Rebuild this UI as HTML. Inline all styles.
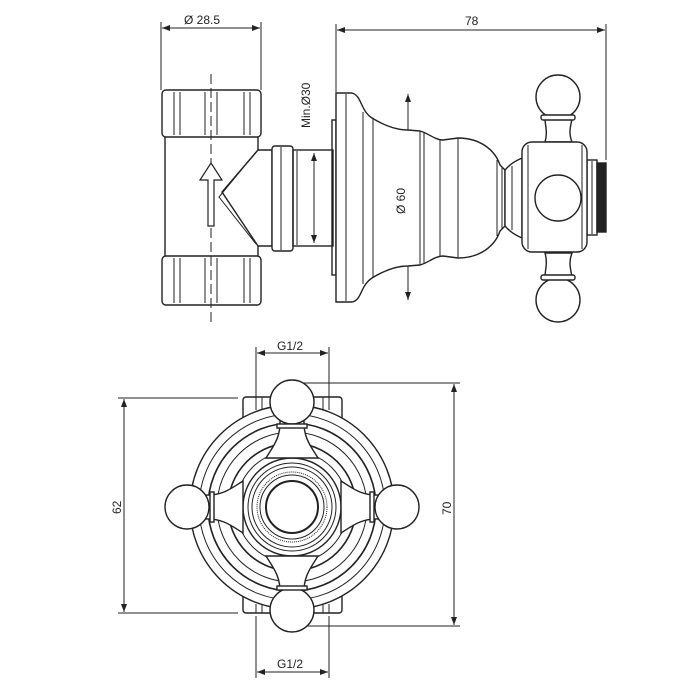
<!DOCTYPE html>
<html><head><meta charset="utf-8"><style>
html,body{margin:0;padding:0;background:#fff}
svg{display:block}
text{font-family:"Liberation Sans",Arial,sans-serif;font-size:12px;fill:#222}
</style></head><body>
<svg width="700" height="700" viewBox="0 0 700 700" xmlns="http://www.w3.org/2000/svg">
<defs>
<marker id="a" markerWidth="8" markerHeight="6" refX="8" refY="3" orient="auto-start-reverse" markerUnits="userSpaceOnUse"><path d="M0,0 L8,3 L0,6 z" fill="#222"/></marker>
</defs>
<g stroke="#222" fill="none" stroke-width="1">
<line x1="161" y1="22" x2="161" y2="90"/><line x1="261" y1="22" x2="261" y2="90"/>
<line x1="162" y1="28" x2="260" y2="28" marker-start="url(#a)" marker-end="url(#a)"/>
<line x1="336" y1="24" x2="336" y2="92"/><line x1="606" y1="24" x2="606" y2="160"/>
<line x1="337" y1="30" x2="605" y2="30" marker-start="url(#a)" marker-end="url(#a)"/>
<line x1="314" y1="153" x2="314" y2="243" marker-start="url(#a)" marker-end="url(#a)"/>
<line x1="408" y1="94" x2="408" y2="300" marker-start="url(#a)" marker-end="url(#a)"/>
<g stroke-width="1.4">
<rect x="162" y="90" width="99" height="47" rx="4" fill="#fff"/>
<rect x="162" y="256" width="99" height="49" rx="4" fill="#fff"/>
<path d="M165 137 V256 M258 137 V150 M258 246 V256"/>
<path d="M258 150 L222 192 L258 246"/>
<path d="M256 152 L219 197 L256 244" stroke-width="1"/>
<path d="M258 150 H272 V246 H258"/>
<rect x="272" y="146" width="21" height="105" rx="3" fill="#fff"/>
<rect x="293" y="150" width="40" height="96"/>
</g>
<path d="M174 92 V135 M180 92 V135 M244 92 V135 M250 92 V135 M174 258 V303 M180 258 V303 M244 258 V303 M250 258 V303"/>
<path d="M205 92 V135 M217 92 V135 M205 258 V303 M217 258 V303"/>
<path d="M281 147 V250 M297 151 V245"/>
<line x1="211" y1="74" x2="211" y2="323" stroke-dasharray="10,4"/>
<path d="M208 226 V180 H200 L211 163 L222 180 H214 V226 Z" fill="#fff" stroke-width="1.2"/>
<g stroke-width="1.4">
<rect x="332" y="120" width="4" height="155"/>
<path d="M336 93 H352 C362 96 360 110 372 118 C385 126 398 130 408 130 L420 131 C428 133 435 140 443 140 L458 138 C480 138 495 150 500 165 L505 170 V226 L500 231 C495 246 480 258 458 258 L443 256 C435 256 428 263 420 265 L408 266 C398 266 385 270 372 278 C360 286 362 300 352 302 H336 Z" fill="#fff"/>
</g>
<path d="M346 94 V301 M363 112 V284 M373 118 V278 M420 131 V265 M424 132 V264 M440 139 V257 M458 138 V258 M497 160 V236 M502 167 V229"/>
<g stroke-width="1.4">
<path d="M505 170 C512 162 518 160 522 158 V238 C518 236 512 234 505 226 Z" fill="#fff"/>
<rect x="587" y="160" width="10" height="75" fill="#fff"/>
<rect x="597" y="163" width="9" height="69" fill="#222"/>
<path d="M545 142 C548 132 545 125 545 119 H572 C571 125 568 132 572 142 Z" fill="#fff"/>
<path d="M545 253 C548 263 545 270 545 277 H572 C571 270 568 263 572 253 Z" fill="#fff"/>
<rect x="522" y="142" width="65" height="110" rx="10" fill="#fff"/>
<circle cx="558" cy="97" r="22" fill="#fff"/>
<circle cx="558" cy="300" r="22" fill="#fff"/>
<rect x="541" y="115" width="34" height="5" rx="2" fill="#fff"/>
<rect x="541" y="275" width="34" height="5" rx="2" fill="#fff"/>
<circle cx="558" cy="198" r="23" fill="#fff"/>
</g>
<path d="M512 166 V230 M528 145 V249 M582 145 V249 M592 161 V234"/>
<line x1="256" y1="347" x2="256" y2="398"/><line x1="329" y1="347" x2="329" y2="398"/>
<line x1="257" y1="353" x2="328" y2="353" marker-start="url(#a)" marker-end="url(#a)"/>
<line x1="256" y1="616" x2="256" y2="678"/><line x1="329" y1="616" x2="329" y2="678"/>
<line x1="257" y1="672" x2="328" y2="672" marker-start="url(#a)" marker-end="url(#a)"/>
<line x1="118" y1="398" x2="238" y2="398"/><line x1="118" y1="613" x2="238" y2="613"/>
<line x1="124" y1="399" x2="124" y2="612" marker-start="url(#a)" marker-end="url(#a)"/>
<line x1="292" y1="383" x2="460" y2="383"/><line x1="292" y1="626" x2="460" y2="626"/>
<line x1="454" y1="384" x2="454" y2="625" marker-start="url(#a)" marker-end="url(#a)"/>
<g stroke-width="1.4">
<rect x="243" y="397" width="99" height="216" rx="3" fill="#fff"/>
<circle cx="292" cy="507" r="102" fill="#fff"/>
</g>
<path d="M256 397 V410 M262 397 V410 M323 397 V410 M329 397 V410 M256 604 V613 M262 604 V613 M323 604 V613 M329 604 V613"/>
<circle cx="292" cy="507" r="93"/>
<circle cx="292" cy="507" r="84" stroke-width="1.6"/>
<circle cx="292" cy="507" r="75"/>
<circle cx="292" cy="507" r="64" stroke-width="1.6"/>
<circle cx="292" cy="507" r="56"/>
<circle cx="292" cy="507" r="49" stroke-width="1.4"/>
<circle cx="292" cy="507" r="44"/>
<circle cx="292" cy="507" r="40"/>
<circle cx="292" cy="507" r="35" stroke-dasharray="1,1"/>
<circle cx="292" cy="507" r="32"/>
<circle cx="292" cy="507" r="26" stroke-width="2"/>
<g stroke-width="1.4" fill="#fff">
<path d="M280 420 C281 438 272 448 266 458 L318 458 C312 448 303 438 304 420 Z"/>
<path d="M280 594 C281 576 272 566 266 556 L318 556 C312 566 303 576 304 594 Z"/>
<path d="M205 495 C223 496 233 487 243 481 L243 533 C233 527 223 518 205 519 Z"/>
<path d="M379 495 C361 496 351 487 341 481 L341 533 C351 527 361 518 379 519 Z"/>
<circle cx="292" cy="402" r="22"/>
<circle cx="292" cy="610" r="22"/>
<circle cx="187" cy="507" r="22"/>
<circle cx="397" cy="507" r="22"/>
<rect x="277" y="424" width="30" height="4"/>
<rect x="277" y="586" width="30" height="4"/>
<rect x="210" y="492" width="4" height="30"/>
<rect x="370" y="492" width="4" height="30"/>
</g>
</g>
<text x="184" y="24">Ø 28.5</text>
<text x="465" y="25">78</text>
<text transform="translate(310,128) rotate(-90)">Min.Ø30</text>
<text transform="translate(405,214) rotate(-90)">Ø 60</text>
<text x="277" y="350">G1/2</text>
<text x="277" y="668">G1/2</text>
<text transform="translate(121,514) rotate(-90)">62</text>
<text transform="translate(451,515) rotate(-90)">70</text>
</svg>
</body></html>
